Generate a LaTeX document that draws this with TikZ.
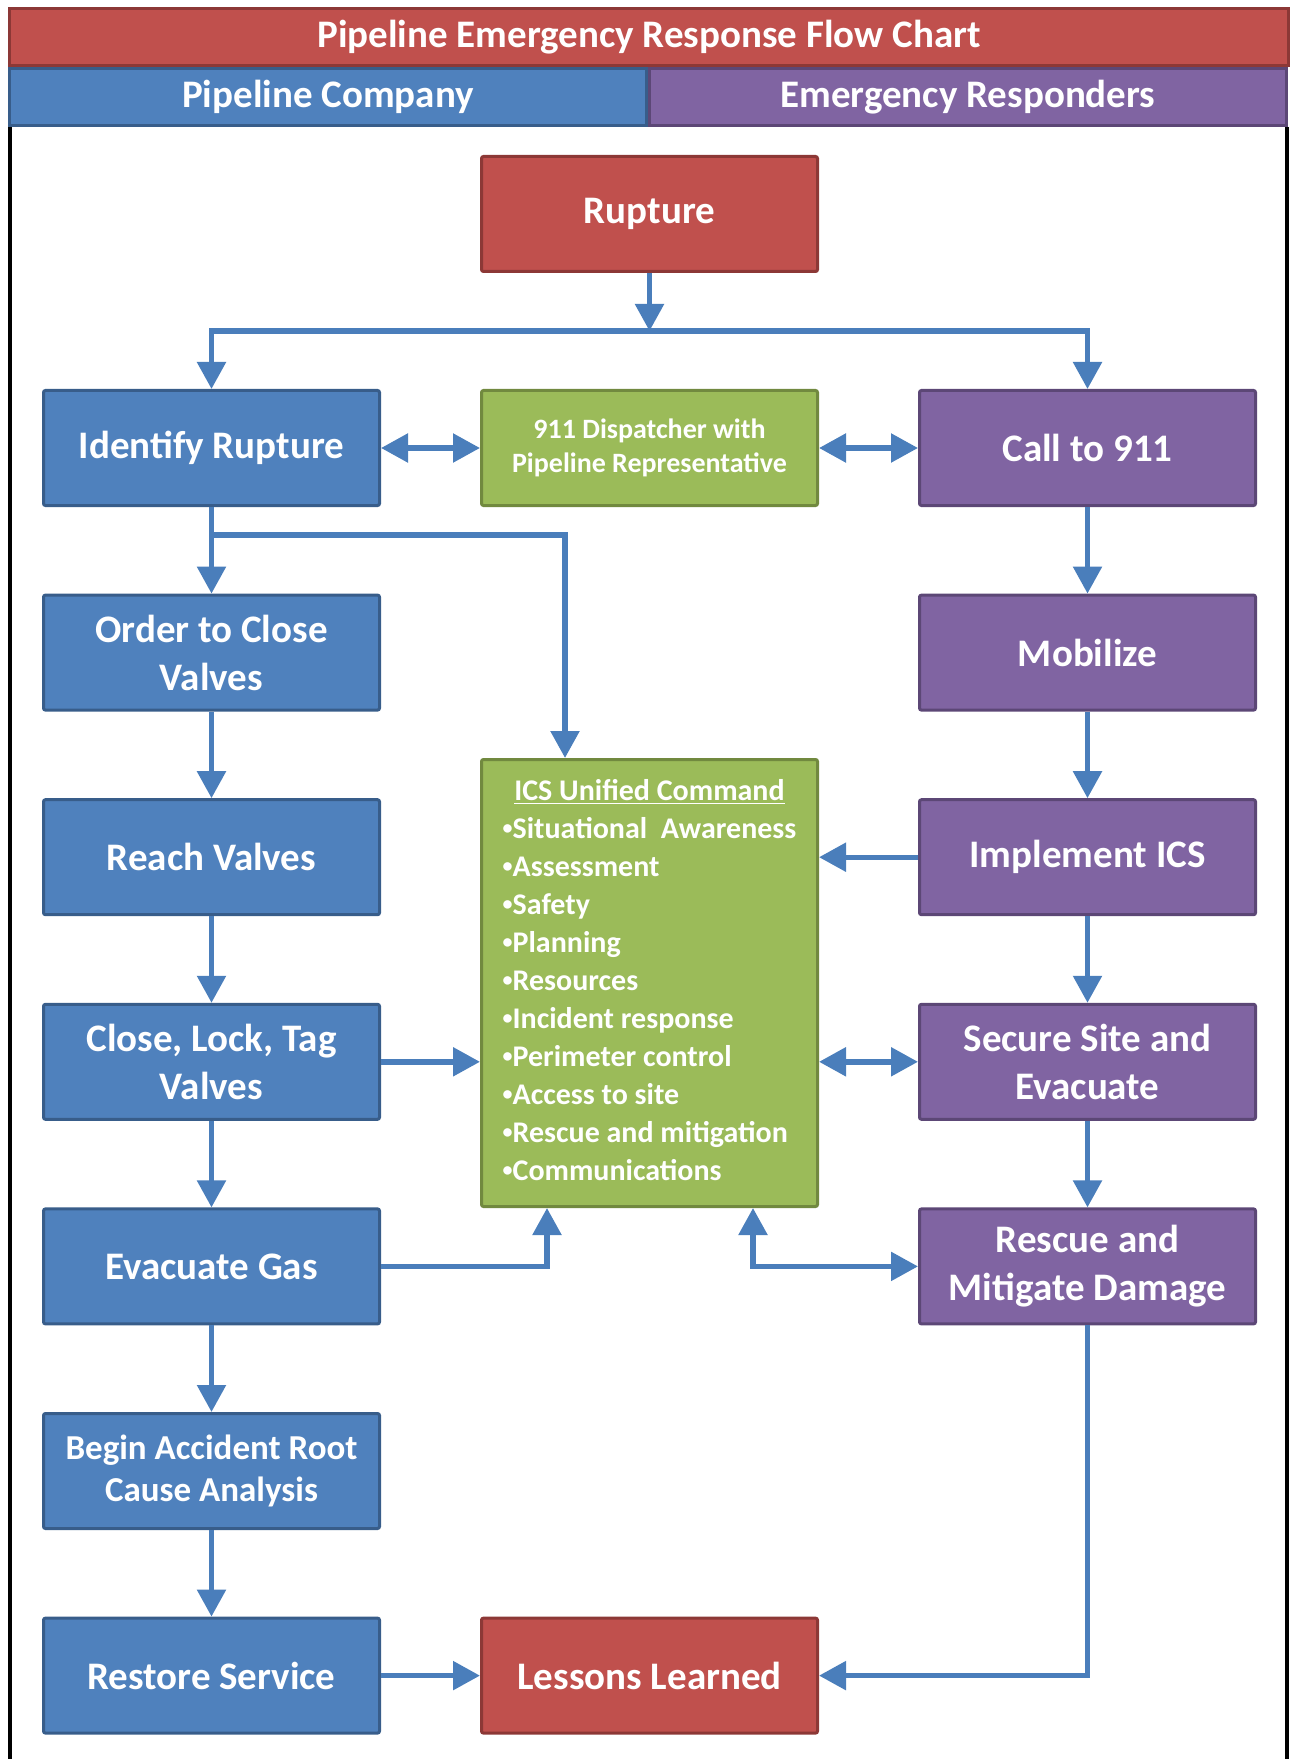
\documentclass[tikz,border=0pt]{standalone}
\usepackage{fontspec}
\setmainfont{Carlito}
\usetikzlibrary{arrows.meta,positioning,calc}
\definecolor{cBlue}{HTML}{4F81BD}
\definecolor{cBlueD}{HTML}{385D8A}
\definecolor{cRed}{HTML}{C0504D}
\definecolor{cRedD}{HTML}{8C3836}
\definecolor{cGreen}{HTML}{9BBB59}
\definecolor{cGreenD}{HTML}{71893F}
\definecolor{cPurp}{HTML}{8064A2}
\definecolor{cPurpD}{HTML}{5C4776}
\definecolor{cArr}{HTML}{4A7EBB}
\newcommand\icsdot{\raisebox{.3ex}{\fontsize{10}{10}\selectfont\textbullet}}

\begin{document}
\begin{tikzpicture}[x=0.5pt,y=-0.5pt,font=\bfseries\fontsize{19.5}{24}\selectfont,
  node distance=43.3pt and 49.5pt,
  box/.style={draw,rounded corners=1pt,minimum width=168pt,minimum height=57.5pt,align=center,line width=1.5pt,text=white,inner sep=2pt},
  coBox/.style={box,fill=cBlue,draw=cBlueD},
  evBox/.style={box,fill=cRed,draw=cRedD},
  jtBox/.style={box,fill=cGreen,draw=cGreenD},
  erBox/.style={box,fill=cPurp,draw=cPurpD},
  hdr/.style={draw,line width=1.5pt,text=white,minimum height=28.5pt,inner sep=0pt},
  arr/.style={-{Triangle[length=13.5pt,width=14pt]},line width=2.7pt,cArr},
  darr/.style={{Triangle[length=13.5pt,width=14pt]}-{Triangle[length=13.5pt,width=14pt]},line width=2.7pt,cArr}]
  \useasboundingbox (0,0) rectangle (1290,1759);
  \draw[line width=2pt] (10,127) -- (10,1759);
  \draw[line width=2pt] (1287,127) -- (1287,1759);
  \node[hdr,fill=cRed,draw=cRedD,minimum width=639.5pt] (title) at (649,37) {Pipeline Emergency Response Flow Chart};
  \node[hdr,fill=cBlue,draw=cBlueD,minimum width=318.5pt] (pc) at (328,97) {Pipeline Company};
  \node[hdr,fill=cPurp,draw=cPurpD,minimum width=318.5pt] (er) at (968,97) {Emergency Responders};
  \node[evBox] (rup) at (649.5,214) {Rupture};
  \node[jtBox,below=58pt of rup,font=\bfseries\fontsize{14}{17}\selectfont] (disp) {911 Dispatcher with\\Pipeline Representative};
  \node[coBox,left=of disp] (idr) {Identify Rupture};
  \node[erBox,right=of disp] (call) {Call to 911};
  \node[coBox,below=of idr] (ocv) {Order to Close\\Valves};
  \node[coBox,below=of ocv] (rv) {Reach Valves};
  \node[coBox,below=of rv] (clt) {Close, Lock, Tag\\Valves};
  \node[coBox,below=of clt] (eg) {Evacuate Gas};
  \node[coBox,below=of eg,font=\bfseries\fontsize{17.5}{21.3}\selectfont] (rca) {Begin Accident Root\\Cause Analysis};
  \node[coBox,below=of rca] (rs) {Restore Service};
  \node[evBox,right=of rs] (ll) {Lessons Learned};
  \node[erBox,below=of call] (mob) {Mobilize};
  \node[erBox,below=of mob] (impl) {Implement ICS};
  \node[erBox,below=of impl] (sse) {Secure Site and\\Evacuate};
  \node[erBox,below=of sse] (rmd) {Rescue and\\Mitigate Damage};
  \node[jtBox,minimum height=223.5pt,font=\bfseries\fontsize{15}{19}\selectfont] (uc) at (649.5,983) {\begin{tabular}{@{}l@{}}
    \multicolumn{1}{@{}c@{}}{\underline{ICS Unified Command}}\\
    \icsdot Situational\ \ Awareness\\ \icsdot Assessment\\ \icsdot Safety\\ \icsdot Planning\\ \icsdot Resources\\
    \icsdot Incident response\\ \icsdot Perimeter control\\ \icsdot Access to site\\ \icsdot Rescue and mitigation\\ \icsdot Communications
  \end{tabular}};
  \coordinate (split) at ($(rup.south)+(0,58)$);
  \draw[arr] (rup) -- (split);
  \draw[arr] (split) -| (idr.north);
  \draw[arr] (split) -| (call.north);
  \draw[darr] (idr) -- (disp);
  \draw[darr] (disp) -- (call);
  \foreach \a/\b in {idr/ocv,ocv/rv,rv/clt,clt/eg,eg/rca,rca/rs,rs/ll,call/mob,mob/impl,impl/sse,sse/rmd}
    \draw[arr] (\a) -- (\b);
  \draw[arr] (idr.south) -- ++(0,28) -| ($(uc.north)+(-84.5,0)$);
  \draw[arr] (clt) -- (clt -| uc.west);
  \draw[arr] (impl) -- (impl -| uc.east);
  \draw[darr] (sse) -- (sse -| uc.east);
  \draw[arr] (eg) -| ($(uc.south)+(-102.5,0)$);
  \draw[darr] ($(uc.south)+(103.5,0)$) |- (rmd);
  \draw[arr] (rmd) |- (ll);
\end{tikzpicture}
\end{document}
